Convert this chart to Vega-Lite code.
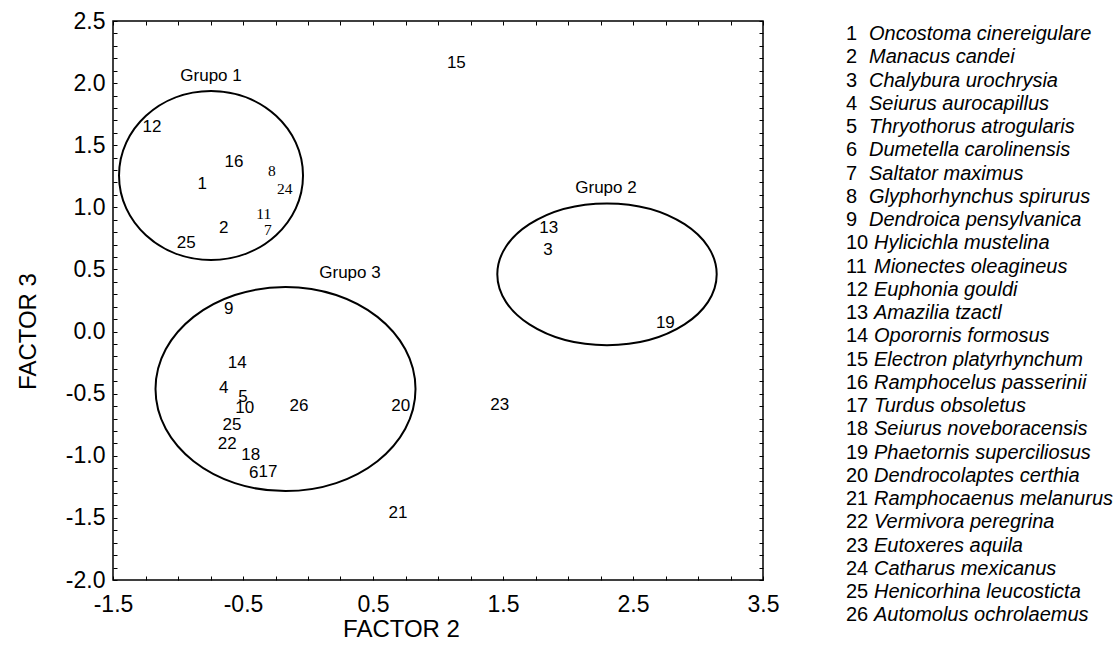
{
  "$schema": "https://vega.github.io/schema/vega-lite/v6.json",
  "padding": {"left": 15, "top": 9, "right": 0, "bottom": 0},
  "background": "white",
  "config": {"view": {"stroke": null}, "font": "Liberation Sans"},
  "spacing": 66,
  "datasets": {
    "especies": [
      {"n": 1, "x": -0.813, "y": 1.185},
      {"n": 2, "x": -0.648, "y": 0.836},
      {"n": 3, "x": 1.846, "y": 0.656},
      {"n": 4, "x": -0.648, "y": -0.458},
      {"n": 5, "x": -0.5, "y": -0.527},
      {"n": 6, "x": -0.418, "y": -1.137},
      {"n": 7, "x": -0.308, "y": 0.815},
      {"n": 8, "x": -0.277, "y": 1.292},
      {"n": 9, "x": -0.61, "y": 0.179},
      {"n": 10, "x": -0.487, "y": -0.613},
      {"n": 11, "x": -0.341, "y": 0.944},
      {"n": 12, "x": -1.2, "y": 1.647},
      {"n": 13, "x": 1.852, "y": 0.831},
      {"n": 14, "x": -0.544, "y": -0.251},
      {"n": 15, "x": 1.141, "y": 2.159},
      {"n": 16, "x": -0.569, "y": 1.367},
      {"n": 17, "x": -0.308, "y": -1.129},
      {"n": 18, "x": -0.441, "y": -0.994},
      {"n": 19, "x": 2.749, "y": 0.071},
      {"n": 20, "x": 0.713, "y": -0.6},
      {"n": 21, "x": 0.692, "y": -1.459},
      {"n": 22, "x": -0.621, "y": -0.908},
      {"n": 23, "x": 1.475, "y": -0.592},
      {"n": 24, "x": -0.179, "y": 1.15},
      {"n": 25, "x": -0.936, "y": 0.715},
      {"n": 25, "x": -0.585, "y": -0.753},
      {"n": 26, "x": -0.069, "y": -0.6}
    ],
    "grupos": [
      {"grupo": "Grupo 1", "x": -0.746, "y": 1.256},
      {"grupo": "Grupo 2", "x": 2.3, "y": 0.461},
      {"grupo": "Grupo 3", "x": -0.173, "y": -0.463}
    ],
    "rotulos": [
      {"grupo": "Grupo 1", "x": -0.746, "y": 2.057},
      {"grupo": "Grupo 2", "x": 2.292, "y": 1.155},
      {"grupo": "Grupo 3", "x": 0.323, "y": 0.471}
    ],
    "leyenda": [
      {"n": 1, "nombre": "Oncostoma cinereigulare"},
      {"n": 2, "nombre": "Manacus candei"},
      {"n": 3, "nombre": "Chalybura urochrysia"},
      {"n": 4, "nombre": "Seiurus aurocapillus"},
      {"n": 5, "nombre": "Thryothorus atrogularis"},
      {"n": 6, "nombre": "Dumetella carolinensis"},
      {"n": 7, "nombre": "Saltator maximus"},
      {"n": 8, "nombre": "Glyphorhynchus spirurus"},
      {"n": 9, "nombre": "Dendroica pensylvanica"},
      {"n": 10, "nombre": "Hylicichla mustelina"},
      {"n": 11, "nombre": "Mionectes oleagineus"},
      {"n": 12, "nombre": "Euphonia gouldi"},
      {"n": 13, "nombre": "Amazilia tzactl"},
      {"n": 14, "nombre": "Oporornis formosus"},
      {"n": 15, "nombre": "Electron platyrhynchum"},
      {"n": 16, "nombre": "Ramphocelus passerinii"},
      {"n": 17, "nombre": "Turdus obsoletus"},
      {"n": 18, "nombre": "Seiurus noveboracensis"},
      {"n": 19, "nombre": "Phaetornis superciliosus"},
      {"n": 20, "nombre": "Dendrocolaptes certhia"},
      {"n": 21, "nombre": "Ramphocaenus melanurus"},
      {"n": 22, "nombre": "Vermivora peregrina"},
      {"n": 23, "nombre": "Eutoxeres aquila"},
      {"n": 24, "nombre": "Catharus mexicanus"},
      {"n": 25, "nombre": "Henicorhina leucosticta"},
      {"n": 26, "nombre": "Automolus ochrolaemus"}
    ]
  },
  "hconcat": [
    {
      "width": 650,
      "height": 559,
      "view": {"stroke": "black", "strokeWidth": 1.5},
      "layer": [
        {
          "data": {"name": "especies"},
          "transform": [{"filter": {"not": {"field": "n", "oneOf": [7, 8, 11, 24]}}}],
          "mark": {"type": "text", "fontSize": 17, "font": "Liberation Sans", "color": "black", "align": "center", "baseline": "middle"},
          "encoding": {
            "x": {
              "field": "x", "type": "quantitative",
              "scale": {"domain": [-1.5, 3.5], "nice": false, "zero": false},
              "axis": {
                "orient": "bottom",
                "values": [-1.5, -1.25, -1, -0.75, -0.5, -0.25, 0, 0.25, 0.5, 0.75, 1, 1.25, 1.5, 1.75, 2, 2.25, 2.5, 2.75, 3, 3.25, 3.5],
                "labelExpr": "abs((datum.value + 1.5) % 1) < 0.001 ? (datum.value < 0 ? '-' : '') + format(abs(datum.value), '.1f') : ''",
                "domain": false, "grid": false,
                "tickSize": -4, "tickColor": "black", "tickWidth": 1,
                "labelFontSize": 23, "labelColor": "black", "labelPadding": 17, "labelFont": "Liberation Sans",
                "labelFlush": false, "labelOverlap": false,
                "title": "FACTOR 2", "titleFontSize": 24, "titleFontWeight": "normal", "titleColor": "black", "titleFont": "Liberation Sans",
                "titleX": 288, "titleY": 49, "titleBaseline": "middle", "titleAlign": "center"
              }
            },
            "y": {
              "field": "y", "type": "quantitative",
              "scale": {"domain": [-2, 2.5], "nice": false, "zero": false},
              "axis": {
                "orient": "left",
                "values": [-2, -1.9, -1.8, -1.7, -1.6, -1.5, -1.4, -1.3, -1.2, -1.1, -1, -0.9, -0.8, -0.7, -0.6, -0.5, -0.4, -0.3, -0.2, -0.1, 0, 0.1, 0.2, 0.3, 0.4, 0.5, 0.6, 0.7, 0.8, 0.9, 1, 1.1, 1.2, 1.3, 1.4, 1.5, 1.6, 1.7, 1.8, 1.9, 2, 2.1, 2.2, 2.3, 2.4, 2.5],
                "labelExpr": "abs(datum.value * 2 - round(datum.value * 2)) < 0.001 ? (datum.value < 0 ? '-' : '') + format(abs(datum.value), '.1f') : ''",
                "domain": false, "grid": false,
                "tickSize": -4, "tickColor": "black", "tickWidth": 1,
                "labelFontSize": 23, "labelColor": "black", "labelPadding": 12, "labelFont": "Liberation Sans",
                "labelFlush": false, "labelOverlap": false,
                "title": "FACTOR 3", "titleFontSize": 24, "titleFontWeight": "normal", "titleColor": "black", "titleFont": "Liberation Sans",
                "titleX": -85, "titleY": 310, "titleBaseline": "middle", "titleAlign": "center", "titleAngle": -90
              }
            },
            "text": {"field": "n", "type": "nominal"}
          }
        },
        {
          "data": {"name": "especies"},
          "transform": [{"filter": {"field": "n", "oneOf": [7, 8, 11, 24]}}],
          "mark": {"type": "text", "fontSize": 15.5, "font": "Liberation Serif", "color": "black", "align": "center", "baseline": "middle"},
          "encoding": {
            "x": {"field": "x", "type": "quantitative", "scale": {"domain": [-1.5, 3.5], "nice": false, "zero": false}, "axis": null},
            "y": {"field": "y", "type": "quantitative", "scale": {"domain": [-2, 2.5], "nice": false, "zero": false}, "axis": null},
            "text": {"field": "n", "type": "nominal"}
          }
        },
        {
          "data": {"name": "grupos"},
          "transform": [{"filter": "datum.grupo === 'Grupo 1'"}],
          "mark": {"type": "point", "shape": "M-1,0A1,0.918,0,1,0,1,0A1,0.918,0,1,0,-1,0Z", "size": 33856, "filled": false, "color": "black", "strokeWidth": 2, "opacity": 1},
          "encoding": {
            "x": {"field": "x", "type": "quantitative", "scale": {"domain": [-1.5, 3.5], "nice": false, "zero": false}, "axis": null},
            "y": {"field": "y", "type": "quantitative", "scale": {"domain": [-2, 2.5], "nice": false, "zero": false}, "axis": null}
          }
        },
        {
          "data": {"name": "grupos"},
          "transform": [{"filter": "datum.grupo === 'Grupo 2'"}],
          "mark": {"type": "point", "shape": "M-1,0A1,0.646,0,1,0,1,0A1,0.646,0,1,0,-1,0Z", "size": 48136, "filled": false, "color": "black", "strokeWidth": 2, "opacity": 1},
          "encoding": {
            "x": {"field": "x", "type": "quantitative", "scale": {"domain": [-1.5, 3.5], "nice": false, "zero": false}, "axis": null},
            "y": {"field": "y", "type": "quantitative", "scale": {"domain": [-2, 2.5], "nice": false, "zero": false}, "axis": null}
          }
        },
        {
          "data": {"name": "grupos"},
          "transform": [{"filter": "datum.grupo === 'Grupo 3'"}],
          "mark": {"type": "point", "shape": "M-1,0A1,0.785,0,1,0,1,0A1,0.785,0,1,0,-1,0Z", "size": 67600, "filled": false, "color": "black", "strokeWidth": 2, "opacity": 1},
          "encoding": {
            "x": {"field": "x", "type": "quantitative", "scale": {"domain": [-1.5, 3.5], "nice": false, "zero": false}, "axis": null},
            "y": {"field": "y", "type": "quantitative", "scale": {"domain": [-2, 2.5], "nice": false, "zero": false}, "axis": null}
          }
        },
        {
          "data": {"name": "rotulos"},
          "mark": {"type": "text", "fontSize": 17, "font": "Liberation Sans", "color": "black", "align": "center", "baseline": "middle"},
          "encoding": {
            "x": {"field": "x", "type": "quantitative", "scale": {"domain": [-1.5, 3.5], "nice": false, "zero": false}, "axis": null},
            "y": {"field": "y", "type": "quantitative", "scale": {"domain": [-2, 2.5], "nice": false, "zero": false}, "axis": null},
            "text": {"field": "grupo", "type": "nominal"}
          }
        },
        {
          "data": {"name": "especies"},
          "mark": {"type": "point", "opacity": 0},
          "encoding": {
            "x": {
              "field": "x", "type": "quantitative",
              "scale": {"domain": [-1.5, 3.5], "nice": false, "zero": false},
              "axis": {
                "orient": "top", "labels": false, "title": null, "domain": false, "grid": false,
                "values": [-1.5, -1.25, -1, -0.75, -0.5, -0.25, 0, 0.25, 0.5, 0.75, 1, 1.25, 1.5, 1.75, 2, 2.25, 2.5, 2.75, 3, 3.25, 3.5],
                "tickSize": -4, "tickColor": "black", "tickWidth": 1, "minExtent": 0, "maxExtent": 0
              }
            },
            "y": {
              "field": "y", "type": "quantitative",
              "scale": {"domain": [-2, 2.5], "nice": false, "zero": false},
              "axis": {
                "orient": "right", "labels": false, "title": null, "domain": false, "grid": false,
                "values": [-2, -1.9, -1.8, -1.7, -1.6, -1.5, -1.4, -1.3, -1.2, -1.1, -1, -0.9, -0.8, -0.7, -0.6, -0.5, -0.4, -0.3, -0.2, -0.1, 0, 0.1, 0.2, 0.3, 0.4, 0.5, 0.6, 0.7, 0.8, 0.9, 1, 1.1, 1.2, 1.3, 1.4, 1.5, 1.6, 1.7, 1.8, 1.9, 2, 2.1, 2.2, 2.3, 2.4, 2.5],
                "tickSize": -4, "tickColor": "black", "tickWidth": 1, "minExtent": 0, "maxExtent": 0
              }
            }
          }
        }
      ],
      "resolve": {
        "scale": {"x": "independent", "y": "independent"},
        "axis": {"x": "independent", "y": "independent"}
      }
    },
    {
      "width": 270,
      "height": 559,
      "data": {"name": "leyenda"},
      "layer": [
        {
          "mark": {"type": "text", "align": "left", "baseline": "middle", "fontSize": 20, "font": "Liberation Sans", "color": "black"},
          "encoding": {
            "x": {"value": 0},
            "y": {"field": "n", "type": "quantitative", "scale": {"domain": [0.441, 24.48], "reverse": true, "nice": false, "zero": false}, "axis": null},
            "text": {"field": "n", "type": "nominal"}
          }
        },
        {
          "transform": [{"filter": "datum.n < 10"}],
          "mark": {"type": "text", "align": "left", "baseline": "middle", "fontSize": 20, "fontStyle": "italic", "font": "Liberation Sans", "color": "black"},
          "encoding": {
            "x": {"value": 23},
            "y": {"field": "n", "type": "quantitative", "scale": {"domain": [0.441, 24.48], "reverse": true, "nice": false, "zero": false}, "axis": null},
            "text": {"field": "nombre", "type": "nominal"}
          }
        },
        {
          "transform": [{"filter": "datum.n >= 10"}],
          "mark": {"type": "text", "align": "left", "baseline": "middle", "fontSize": 20, "fontStyle": "italic", "font": "Liberation Sans", "color": "black"},
          "encoding": {
            "x": {"value": 28},
            "y": {"field": "n", "type": "quantitative", "scale": {"domain": [0.441, 24.48], "reverse": true, "nice": false, "zero": false}, "axis": null},
            "text": {"field": "nombre", "type": "nominal"}
          }
        }
      ]
    }
  ]
}
